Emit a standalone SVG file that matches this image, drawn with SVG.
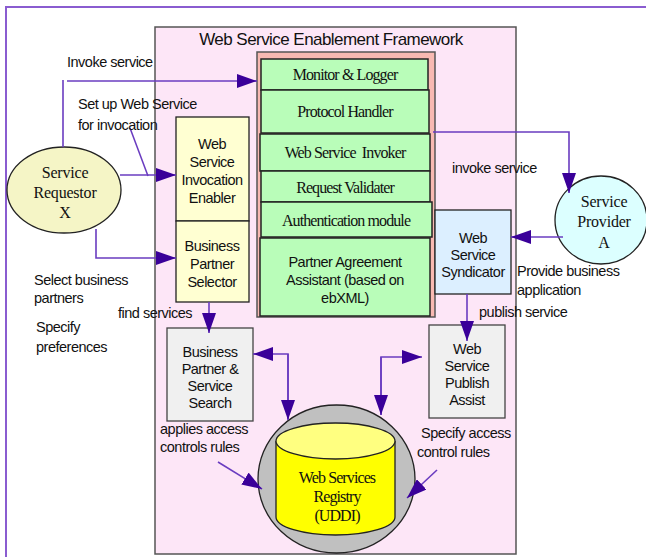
<svg xmlns="http://www.w3.org/2000/svg" width="646" height="557" viewBox="0 0 646 557">
<defs>
<marker id="ah" markerUnits="userSpaceOnUse" markerWidth="20" markerHeight="14" refX="20" refY="7" orient="auto">
<path d="M0,0 L20,7 L0,14 z" fill="#3a0099"/>
</marker>
<style>
.s{font-family:"Liberation Sans",Arial,sans-serif;font-size:14.5px;letter-spacing:-0.5px;fill:#111}
.t{font-family:"Liberation Serif","Times New Roman",serif;font-size:16px;letter-spacing:-0.9px;fill:#111}
.e{letter-spacing:-0.2px}
.c{text-anchor:middle}
.g{fill:#b9fdb9;stroke:#222;stroke-width:1.5}
.ln{fill:none;stroke:#6a3cc0;stroke-width:1.6}
</style>
</defs>
<rect width="646" height="557" fill="#fff"/>
<rect x="6" y="7" width="700" height="600" fill="none" stroke="#8a5cd0" stroke-width="2"/>

<g id="framework">
<rect x="155" y="27" width="361" height="527" fill="#fde6f7" stroke="#555" stroke-width="1.5"/>
<text class="s c" x="331" y="45" style="font-size:17px;letter-spacing:-0.55px">Web Service Enablement Framework</text>
</g>

<g id="core">
<rect x="257" y="52" width="178" height="265" fill="#f8b9b2" stroke="#555" stroke-width="1.5"/>
</g>
<g id="monitor"><rect class="g" x="261" y="59" width="167" height="31"/><text class="t c" x="345" y="80">Monitor &amp; Logger</text></g>
<g id="protocol"><rect class="g" x="261" y="90" width="168" height="43"/><text class="t c" x="345" y="117">Protocol Handler</text></g>
<g id="invoker"><rect class="g" x="260" y="134" width="170" height="37"/><text class="t c" x="345" y="158" style="white-space:pre">Web Service  Invoker</text></g>
<g id="validater"><rect class="g" x="261" y="171" width="169" height="31"/><text class="t c" x="345" y="193">Request Validater</text></g>
<g id="auth"><rect class="g" x="261" y="202" width="171" height="35"/><text class="t c" x="346" y="226">Authentication module</text></g>
<g id="partner-agreement"><rect class="g" x="260" y="238" width="170" height="78"/>
<text class="s c" x="345" y="267">Partner Agreement</text><text class="s c" x="345" y="285">Assistant (based on</text><text class="s c" x="345" y="303">ebXML)</text></g>

<g id="invocation-enabler"><rect x="176" y="117" width="73" height="104" fill="#ffffd2" stroke="#222" stroke-width="1.3"/>
<text class="s c" x="212" y="149">Web</text><text class="s c" x="212" y="167">Service</text><text class="s c" x="212" y="185">Invocation</text><text class="s c" x="212" y="203">Enabler</text></g>
<g id="partner-selector"><rect x="176" y="221" width="73" height="81" fill="#ffffd2" stroke="#222" stroke-width="1.3"/>
<text class="s c" x="212" y="251">Business</text><text class="s c" x="212" y="269">Partner</text><text class="s c" x="212" y="287">Selector</text></g>

<g id="syndicator"><rect x="435" y="210" width="76" height="84" fill="#dcefff" stroke="#222" stroke-width="1.3"/>
<text class="s c" x="473" y="243">Web</text><text class="s c" x="473" y="260">Service</text><text class="s c" x="473" y="277">Syndicator</text></g>

<g id="search"><rect x="167" y="328" width="86" height="93" fill="#f0f0f0" stroke="#444" stroke-width="1.3"/>
<text class="s c" x="210" y="357">Business</text><text class="s c" x="210" y="374">Partner &amp;</text><text class="s c" x="210" y="391">Service</text><text class="s c" x="210" y="408">Search</text></g>

<g id="publish-assist"><rect x="429" y="325" width="76" height="93" fill="#f0f0f0" stroke="#444" stroke-width="1.3"/>
<text class="s c" x="467" y="354">Web</text><text class="s c" x="467" y="371">Service</text><text class="s c" x="467" y="388">Publish</text><text class="s c" x="467" y="405">Assist</text></g>

<g id="requestor"><ellipse cx="64" cy="190" rx="57" ry="43" fill="#f5f5c6" stroke="#222" stroke-width="1.3"/>
<text class="t e c" x="65" y="178">Service</text><text class="t e c" x="65" y="198">Requestor</text><text class="t e c" x="65" y="218">X</text></g>

<g id="provider"><ellipse cx="601" cy="220" rx="46" ry="44" fill="#dcffff" stroke="#222" stroke-width="1.3"/>
<text class="t e c" x="604" y="207">Service</text><text class="t e c" x="604" y="227">Provider</text><text class="t e c" x="604" y="248">A</text></g>

<g id="registry">
<ellipse cx="336.5" cy="479" rx="78.5" ry="74" fill="#c0c0c0" stroke="#222" stroke-width="1.3"/>
<path d="M276,441 L276,517 A59.5,18 0 0 0 395,517 L395,441" fill="#ffff00" stroke="#222" stroke-width="1.3"/>
<ellipse cx="335.5" cy="441" rx="59.5" ry="18" fill="#ffff80" stroke="#222" stroke-width="1.3"/>
<text class="t c" x="337" y="483">Web Services</text><text class="t c" x="337" y="502">Registry</text><text class="t c" x="337" y="521">(UDDI)</text>
</g>

<g id="connectors">
<polyline class="ln" points="63,147 63,80"/>
<polyline class="ln" points="67,81 257,81" marker-end="url(#ah)"/>
<polyline class="ln" points="120,175 176,175" marker-end="url(#ah)"/>
<polyline class="ln" points="130,128 148,176"/>
<polyline class="ln" points="96,229 96,258 176,258" marker-end="url(#ah)"/>
<polyline class="ln" points="209,302 209,333" marker-end="url(#ah)"/>
<polyline class="ln" points="288,419 288,354 253,354" marker-end="url(#ah)"/>
<polyline class="ln" points="288,354 288,420" marker-end="url(#ah)"/>
<polyline class="ln" points="381,415 381,357 422,357" marker-end="url(#ah)"/>
<polyline class="ln" points="381,357 381,415" marker-end="url(#ah)"/>
<polyline class="ln" points="433,132 569,132 569,193" marker-end="url(#ah)"/>
<polyline class="ln" points="563,237 511,237" marker-end="url(#ah)"/>
<polyline class="ln" points="467,294 467,341" marker-end="url(#ah)"/>
<polyline class="ln" points="218,462 262,489" marker-end="url(#ah)"/>
<polyline class="ln" points="437,470 407,498" marker-end="url(#ah)"/>
</g>

<g id="labels">
<text class="s" x="67" y="67">Invoke service</text>
<text class="s" x="78" y="109">Set up Web Service</text>
<text class="s" x="78" y="130">for invocation</text>
<text class="s" x="34" y="285">Select business</text>
<text class="s" x="34" y="303">partners</text>
<text class="s" x="36" y="332">Specify</text>
<text class="s" x="36" y="352">preferences</text>
<text class="s" x="118" y="318">find services</text>
<text class="s" x="160" y="434">applies access</text>
<text class="s" x="160" y="452">controls rules</text>
<text class="s" x="421" y="438">Specify access</text>
<text class="s" x="417" y="457">control rules</text>
<text class="s" x="452" y="173">invoke service</text>
<text class="s" x="517" y="276">Provide business</text>
<text class="s" x="517" y="295">application</text>
<text class="s" x="479" y="317">publish service</text>
</g>
</svg>
